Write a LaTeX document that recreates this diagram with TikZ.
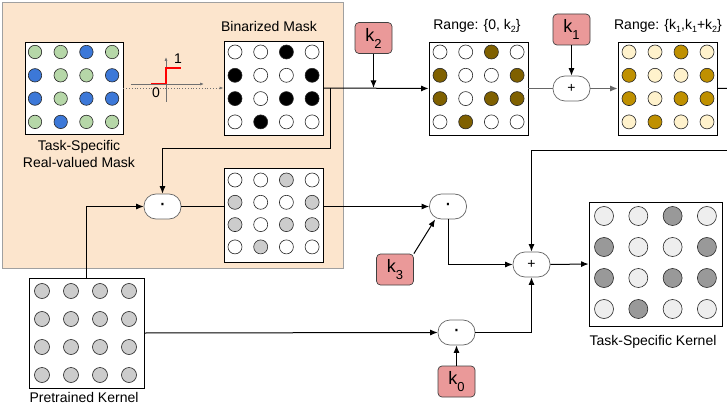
\documentclass[tikz,border=0pt]{standalone}
\usepackage{fontspec}
\setmainfont{Liberation Sans}
\usetikzlibrary{arrows.meta,calc}
\definecolor{peach}{HTML}{FCE5CD}
\definecolor{peachline}{HTML}{A0A0A0}
\definecolor{mgreen}{HTML}{B6D7A8}
\definecolor{mblue}{HTML}{3C78D8}
\definecolor{mgray}{HTML}{CCCCCC}
\definecolor{mbrown}{HTML}{7F6000}
\definecolor{mgold}{HTML}{BF9000}
\definecolor{mcream}{HTML}{FFF2CC}
\definecolor{tdark}{HTML}{999999}
\definecolor{tlight}{HTML}{EEEEEE}
\definecolor{kred}{HTML}{EA9999}
\definecolor{axisgray}{HTML}{707070}
\definecolor{flowgray}{HTML}{666666}
\newcommand{\cgrid}[7]{%
  \foreach \bits [count=\rw from 0] in {{0,0,1,0},{1,0,0,1},{1,0,1,1},{0,1,0,0}}{%
    \foreach \bt [count=\cl from 0] in \bits {%
      \ifnum\bt=1 \def\fc{#6}\else\def\fc{#7}\fi
      \draw[circ, fill=\fc] ({#1+#2*\cl},{#3+#4*\rw}) circle[radius=#5];
    }%
  }%
}
\newcommand{\klabel}[1]{{\fontsize{18}{18}\selectfont k\raisebox{-7pt}{\fontsize{13}{13}\selectfont #1}}}
\newcommand{\ksub}[1]{k\raisebox{-3pt}{\fontsize{9}{9}\selectfont #1}}
\newcommand{\opdot}{{\fontsize{22}{22}\selectfont\char"00B7}}
\tikzset{
  gridbox/.style={draw=black, line width=0.8pt, fill=white, inner sep=0pt},
  circ/.style={draw=black!85, line width=0.6pt},
  op/.style={draw=flowgray, fill=white, line width=0.7pt, rounded corners=12pt,
    minimum width=37pt, minimum height=25pt, inner sep=0pt},
  kbox/.style={draw=black!75, fill=kred, line width=0.7pt, rounded corners=4pt,
    minimum width=37pt, minimum height=31pt, inner sep=0pt},
  conn/.style={line width=1pt, -{Latex[length=7.5pt,width=6pt]}},
  plain/.style={line width=1pt},
  lbl/.style={inner sep=0pt, align=center},
  axis/.style={draw=axisgray, line width=0.7pt, -{Latex[length=4pt,width=3pt]}}
}
\begin{document}
\begin{tikzpicture}[x=1pt,y=-1pt, font=\fontsize{14}{17}\selectfont]
\useasboundingbox (0,0) rectangle (727,406);
\clip (0,0) rectangle (727,406);
\fill[white] (0,0) rectangle (727,406);
% peach background
\draw[fill=peach, draw=peachline, line width=1pt] (2,3) rectangle (343,268);

% grids
\node[gridbox, minimum width=98pt, minimum height=92pt] (rm) at (74,88) {};
\node[gridbox, minimum width=99pt, minimum height=94pt] (bm) at (273.5,88) {};
\node[gridbox, minimum width=99pt, minimum height=94pt] (mm) at (273.5,215) {};
\node[gridbox, minimum width=115pt, minimum height=110pt] (pk) at (86.5,333) {};
\node[gridbox, minimum width=99pt, minimum height=93pt] (r1) at (478.5,88.5) {};
\node[gridbox, minimum width=99pt, minimum height=93pt] (r2) at (667.5,88.5) {};
\node[gridbox, minimum width=133pt, minimum height=124pt] (tk) at (655.5,264) {};

\cgrid{35}{25.7}{52}{23.3}{6.7}{mblue}{mgreen}
\cgrid{235}{25.7}{52}{23.3}{7}{black}{white}
\cgrid{235}{25.7}{180}{22.3}{7}{mgray}{white}
\cgrid{440}{25.7}{52}{23.3}{7}{mbrown}{white}
\cgrid{629}{26}{52}{23.3}{7}{mgold}{mcream}
\cgrid{42}{29}{291}{28}{7.5}{mgray}{mgray}
\cgrid{604}{34.3}{216}{31}{9.5}{tdark}{tlight}

% labels
\node[lbl] (lrm) at (79,153.5) {Task-Specific\\Real-valued Mask};
\node[lbl] (lbm) at (269,26) {Binarized Mask};
\node[lbl] (lr1) at (477,26) {Range: \{0, \ksub{2}\}};
\node[lbl] (lr2) at (668,26) {Range: \{\ksub{1},\ksub{1}+\ksub{2}\}};
\node[lbl] (lpk) at (84,397) {Pretrained Kernel};
\node[lbl] (ltk) at (653,342) {Task-Specific Kernel};

% step function
\draw[dotted, draw=axisgray, line width=0.8pt, -{Latex[length=4pt,width=3pt]}] (rm.east) -- (bm.west);
\coordinate (ax0) at (131,84);
\coordinate (ax1) at (204,84);
\coordinate (ay0) at (166,102);
\coordinate (ay1) at (166,57);
\draw[axis] (ax0) -- (ax1);
\draw[axis] (ay0) -- (ay1);
\coordinate (s0) at (151,83.5);
\coordinate (s1) at (166,83.5);
\coordinate (s2) at (166,68);
\coordinate (s3) at (181,68);
\draw[red, line width=1.6pt] (s0) -- (s1) -- (s2) -- (s3);
\node[lbl] (one) at (178,59) {1};
\node[lbl] (zero) at (156,93) {0};

% operator nodes
\node[op] (dot1) at (162.5,206.5) {\opdot};
\node[op] (dot2) at (448,206.5) {\opdot};
\node[op] (dot3) at (456.5,332.5) {\opdot};
\node[op] (plus1) at (571.5,88.5) {+};
\node[op] (plus2) at (531.5,264.5) {+};

% k boxes
\node[kbox] (k2) at (373.5,38) {\klabel{2}};
\node[kbox] (k1) at (571.5,29.5) {\klabel{1}};
\node[kbox] (k3) at (395,269.5) {\klabel{3}};
\node[kbox] (k0) at (456.5,381.5) {\klabel{0}};

% connectors
\draw[conn] (bm.east) -- (r1.west);
\coordinate (j1) at (330,88);
\draw[conn] (j1) -- ++(0,61) -| (dot1.north);
\draw[conn] (k2.south) -- (k2.south |- bm.east);
\draw[plain, draw=flowgray] (r1.east) -- (plus1.west);
\draw[conn] (k1.south) -- (plus1.north);
\draw[conn, draw=flowgray, fill=flowgray] (plus1.east) -- (r2.west);
\coordinate (e1) at (745,88);
\coordinate (e2) at (745,151);
\draw[plain] (r2.east) -- (e1);
\draw[conn] (e2) -| (plus2.north);
\draw[plain] (dot1.east) -- (dot1.east -| mm.west);
\draw[conn] (pk.north) |- (dot1.west);
\draw[conn] (mm.east |- dot2.west) -- (dot2.west);
\draw[conn] (k3.north east) -- (dot2.225);
\draw[conn] (dot2.south) |- (plus2.west);
\draw[conn] (pk.east) -- (dot3.west);
\draw[conn] (k0.north) -- (dot3.south);
\draw[conn] (dot3.east) -| (plus2.south);
\draw[conn] (plus2.east) -- (tk.west);
\end{tikzpicture}
\end{document}
